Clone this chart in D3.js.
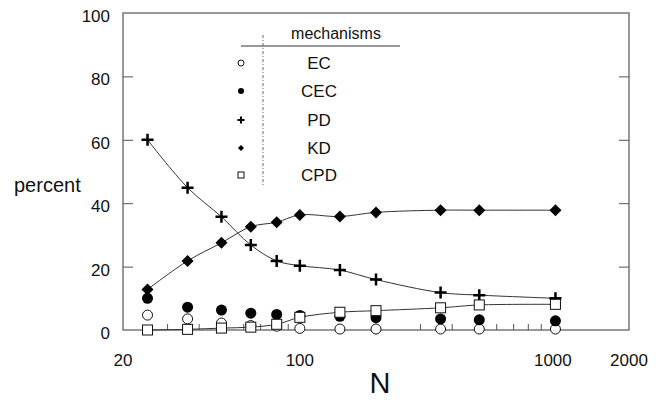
<!DOCTYPE html>
<html>
<head>
<meta charset="utf-8">
<script src="https://cdn.jsdelivr.net/npm/d3@7"></script>
<style>
body { margin: 0; background: #fff; }
svg text { font-family: "Liberation Sans", Arial, sans-serif; fill: #111; }
</style>
</head>
<body>
<div id="container"></div>
<script>
// chart values
var sizes = [25, 36, 49, 64, 81, 100, 144, 200, 360, 512, 1024]; // N
var ec  = [4.7, 3.5, 2.2, 1.4, 1.2, 0.5, 0.3, 0.3, 0.3, 0.3, 0.3];
var cec = [10.0, 7.2, 6.3, 5.3, 4.9, 4.6, 4.3, 3.9, 3.5, 3.2, 2.9];
var pd  = [60, 44.9, 35.7, 26.8, 21.8, 20.3, 18.9, 15.9, 11.8, 11.0, 10.0];
var kd  = [12.8, 21.8, 27.5, 32.6, 34.0, 36.3, 35.8, 37.1, 37.8, 37.8, 37.8];
var cpd = [0, 0.2, 0.6, 0.9, 1.8, 4.0, 5.6, 6.1, 7.0, 7.9, 8.1];
var mechanisms = ["EC", "CEC", "PD", "KD", "CPD"];
var xTicks = [20, 100, 1000, 2000];
var xMinor = [30, 40, 50, 60, 70, 80, 90, 200, 300, 400, 500, 600, 700, 800, 900];
var yTicks = [0, 20, 40, 60, 80, 100];

var w = 660, h = 401;
var pLeft = 123, pRight = 629, pTop = 13, pBottom = 330; // plot frame

var vis = d3.select("div#container").append("svg")
	.attr("width", w)
	.attr("height", h);

var x = d3.scaleLog().domain([20, 2000]).range([pLeft, pRight]);
var y = d3.scaleLinear().domain([0, 100]).range([pBottom, pTop]);

// frame
vis.append("rect")
	.attr("x", pLeft).attr("y", pTop)
	.attr("width", pRight - pLeft).attr("height", pBottom - pTop)
	.attr("fill", "none").attr("stroke", "#555").attr("stroke-width", 1.2);

// y ticks, inward on both sides
var yAxisL = d3.axisRight(y).tickValues(yTicks.slice(1, 5)).tickSize(10).tickFormat("");
vis.append("g").attr("transform", "translate(" + pLeft + ",0)").call(yAxisL);
var yAxisR = d3.axisLeft(y).tickValues(yTicks.slice(1, 5)).tickSize(10).tickFormat("");
vis.append("g").attr("transform", "translate(" + pRight + ",0)").call(yAxisR);
vis.selectAll(".domain").remove();
vis.selectAll(".tick line").attr("stroke", "#555");

vis.selectAll("text.ylab")
	.data(yTicks)
  .enter().append("text")
	.attr("class", "ylab")
	.attr("x", pLeft - 13)
	.attr("y", function(d) { return y(d) + 9; })
	.attr("text-anchor", "end")
	.style("font-size", "17px")
	.text(function(d) { return d; });

// x minor ticks, pointing up
vis.selectAll("line.minor")
	.data(xMinor)
  .enter().append("line")
	.attr("class", "minor")
	.attr("x1", function(d) { return x(d); })
	.attr("x2", function(d) { return x(d); })
	.attr("y1", pBottom).attr("y2", pBottom - 6)
	.attr("stroke", "#555");

vis.selectAll("text.xlab")
	.data(xTicks)
  .enter().append("text")
	.attr("class", "xlab")
	.attr("x", function(d) { return x(d); })
	.attr("y", 366)
	.attr("text-anchor", "middle")
	.style("font-size", "17px")
	.text(function(d) { return d; });

vis.append("text")
	.attr("x", 380).attr("y", 393)
	.attr("text-anchor", "middle")
	.style("font-size", "29px")
	.text("N");

vis.append("text")
	.attr("x", 14).attr("y", 192)
	.style("font-size", "20px")
	.text("percent");

// data, one object per point
var series = [ec, cec, pd, kd, cpd].map(function(vals, k) {
	return { name: mechanisms[k], points: sizes.map(function(n, i) { return { n: n, v: vals[i] }; }) };
});

var line = d3.line()
	.x(function(d) { return x(d.n); })
	.y(function(d) { return y(d.v); })
	.curve(d3.curveCatmullRom);

// lines only for PD, KD and CPD
vis.selectAll("path.curve")
	.data(series.filter(function(s) { return s.name == "PD" || s.name == "KD" || s.name == "CPD"; }))
  .enter().append("path")
	.attr("class", "curve")
	.attr("d", function(s) { return line(s.points); })
	.attr("fill", "none")
	.attr("stroke", "#333")
	.attr("stroke-width", 1);

function marker(g, name, s) { // draw one symbol of size s at 0,0
	if (name == "EC") {
		g.append("circle").attr("r", s / 2).attr("fill", "#fff").attr("stroke", "#111").attr("stroke-width", 1);
	} else if (name == "CEC") {
		g.append("circle").attr("r", s / 2).attr("fill", "#000");
	} else if (name == "PD") {
		g.append("path").attr("d", "M" + (-s / 2) + ",0H" + (s / 2) + "M0," + (-s / 2) + "V" + (s / 2))
			.attr("stroke", "#000").attr("stroke-width", s > 8 ? 2.5 : 2);
	} else if (name == "KD") {
		g.append("path").attr("d", "M0," + (-s / 2) + "L" + (s / 2) + ",0L0," + (s / 2) + "L" + (-s / 2) + ",0Z").attr("fill", "#000");
	} else {
		g.append("rect").attr("x", -s / 2).attr("y", -s / 2).attr("width", s).attr("height", s)
			.attr("fill", "#fff").attr("stroke", "#111").attr("stroke-width", 1);
	}
}

var markSize = { EC: 10, CEC: 11, PD: 12, KD: 12, CPD: 10 };
series.forEach(function(s) {
	vis.selectAll("g.pt-" + s.name)
		.data(s.points)
	  .enter().append("g")
		.attr("class", "pt-" + s.name)
		.attr("transform", function(d) { return "translate(" + x(d.n) + "," + y(d.v) + ")"; })
		.each(function() { marker(d3.select(this), s.name, markSize[s.name]); });
});

// legend
var lg = vis.append("g");
lg.append("text").attr("x", 336).attr("y", 39).attr("text-anchor", "middle")
	.style("font-size", "16px").text("mechanisms");
lg.append("line").attr("x1", 241).attr("x2", 400).attr("y1", 46).attr("y2", 46)
	.attr("stroke", "#333");
lg.append("line").attr("x1", 263).attr("x2", 263).attr("y1", 35).attr("y2", 187)
	.attr("stroke", "#666").attr("stroke-dasharray", "3,2,1,2");
var rowY = [63, 91, 120, 148, 175];
var rows = lg.selectAll("g.row")
	.data(mechanisms)
  .enter().append("g")
	.attr("class", "row")
	.attr("transform", function(d, i) { return "translate(0," + rowY[i] + ")"; });
rows.append("g").attr("transform", "translate(241,0)")
	.each(function(d) { marker(d3.select(this), d, d == "PD" ? 7 : 6); });
rows.append("text").attr("x", 319).attr("y", 6).attr("text-anchor", "middle")
	.style("font-size", "17px").text(function(d) { return d; });
</script>
</body>
</html>
